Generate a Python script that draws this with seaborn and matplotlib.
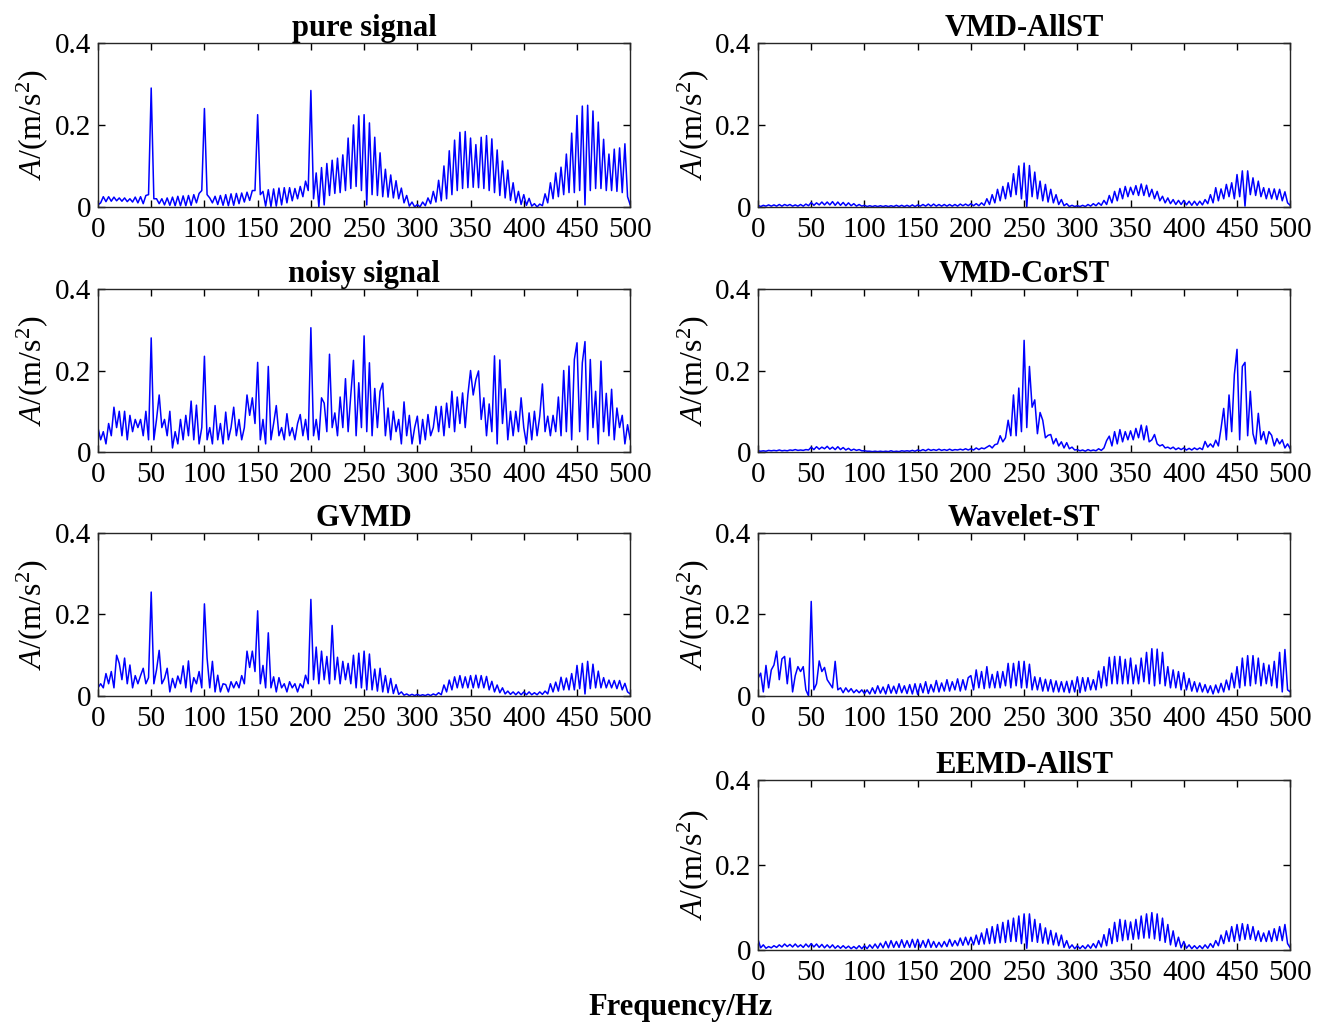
import numpy as np
import pandas as pd
import seaborn as sns
import matplotlib
matplotlib.use("Agg")
import matplotlib.pyplot as plt

# frequency grid, 2.5 Hz step (0 ... 500 Hz)
freq = np.arange(201) * 2.5

# ---- pure signal: harmonic peaks (every 5 Hz) and floor between them (x.5 Hz)
pure_peaks = [0.005, 0.025, 0.025, 0.024, 0.022, 0.022, 0.020, 0.024, 0.025, 0.028,
              0.290, 0.020, 0.020, 0.022, 0.024, 0.026, 0.027, 0.028, 0.030, 0.033,
              0.240, 0.022, 0.026, 0.028, 0.030, 0.032, 0.033, 0.034, 0.036, 0.040,
              0.225, 0.038, 0.042, 0.044, 0.046, 0.047, 0.047, 0.045, 0.050, 0.063,
              0.284, 0.083, 0.096, 0.106, 0.114, 0.119, 0.127, 0.168, 0.200, 0.222,
              0.225, 0.205, 0.170, 0.132, 0.092, 0.078, 0.064, 0.046, 0.028, 0.012,
              0.006, 0.012, 0.022, 0.038, 0.065, 0.100, 0.137, 0.163, 0.182, 0.184,
              0.168, 0.152, 0.170, 0.174, 0.166, 0.139, 0.112, 0.090, 0.059, 0.038,
              0.030, 0.021, 0.008, 0.007, 0.032, 0.059, 0.083, 0.097, 0.129, 0.180,
              0.223, 0.246, 0.248, 0.234, 0.207, 0.165, 0.129, 0.141, 0.144, 0.154,
              0.005]
pure_floor = [0.010, 0.013, 0.014, 0.015, 0.014, 0.013, 0.012, 0.010, 0.008, 0.030,
              0.020, 0.008, 0.005, 0.004, 0.003, 0.003, 0.003, 0.004, 0.010, 0.040,
              0.030, 0.010, 0.006, 0.004, 0.003, 0.004, 0.008, 0.012, 0.016, 0.040,
              0.030, 0.002, 0.001, 0.002, 0.005, 0.010, 0.015, 0.020, 0.025, 0.040,
              0.020, 0.000, 0.005, 0.028, 0.033, 0.035, 0.040, 0.045, 0.050, 0.040,
              0.005, 0.030, 0.028, 0.025, 0.024, 0.022, 0.020, 0.010, 0.002, 0.000,
              0.000, 0.003, 0.008, 0.012, 0.015, 0.020, 0.030, 0.040, 0.045, 0.047,
              0.048, 0.047, 0.045, 0.040, 0.035, 0.028, 0.022, 0.016, 0.010, 0.006,
              0.004, 0.002, 0.000, 0.003, 0.010, 0.020, 0.025, 0.030, 0.035, 0.035,
              0.040, 0.005, 0.040, 0.045, 0.045, 0.040, 0.040, 0.038, 0.035, 0.025]

# ---- noisy signal, read directly on the 2.5 Hz grid
noisy = [0.060, 0.030, 0.050, 0.020, 0.070, 0.040, 0.110, 0.060, 0.100, 0.040,
         0.100, 0.030, 0.090, 0.050, 0.080, 0.060, 0.080, 0.040, 0.100, 0.030,
         0.280, 0.030, 0.080, 0.140, 0.060, 0.080, 0.040, 0.100, 0.010, 0.050,
         0.020, 0.080, 0.030, 0.090, 0.040, 0.125, 0.030, 0.115, 0.020, 0.060,
         0.235, 0.030, 0.060, 0.020, 0.114, 0.030, 0.070, 0.020, 0.098, 0.030,
         0.060, 0.110, 0.040, 0.080, 0.030, 0.060, 0.140, 0.090, 0.133, 0.070,
         0.220, 0.030, 0.080, 0.020, 0.210, 0.030, 0.070, 0.114, 0.040, 0.060,
         0.030, 0.094, 0.040, 0.060, 0.030, 0.070, 0.092, 0.040, 0.080, 0.030,
         0.305, 0.040, 0.080, 0.030, 0.133, 0.120, 0.050, 0.240, 0.060, 0.096,
         0.040, 0.135, 0.060, 0.180, 0.050, 0.140, 0.225, 0.040, 0.170, 0.060,
         0.285, 0.050, 0.219, 0.040, 0.156, 0.060, 0.149, 0.169, 0.040, 0.108,
         0.030, 0.100, 0.050, 0.080, 0.020, 0.123, 0.040, 0.090, 0.020, 0.060,
         0.088, 0.020, 0.080, 0.030, 0.092, 0.040, 0.060, 0.112, 0.050, 0.112,
         0.040, 0.120, 0.060, 0.149, 0.050, 0.135, 0.070, 0.145, 0.060, 0.141,
         0.200, 0.140, 0.178, 0.199, 0.080, 0.133, 0.040, 0.118, 0.050, 0.236,
         0.020, 0.226, 0.070, 0.155, 0.030, 0.100, 0.040, 0.100, 0.050, 0.133,
         0.060, 0.020, 0.096, 0.030, 0.100, 0.040, 0.088, 0.167, 0.050, 0.088,
         0.040, 0.090, 0.050, 0.135, 0.040, 0.200, 0.050, 0.211, 0.030, 0.227,
         0.268, 0.050, 0.219, 0.271, 0.030, 0.227, 0.060, 0.149, 0.020, 0.223,
         0.050, 0.144, 0.040, 0.154, 0.030, 0.108, 0.060, 0.090, 0.020, 0.067,
         0.030]

# ---- GVMD, 2.5 Hz grid
gvmd = [0.020, 0.030, 0.020, 0.055, 0.030, 0.060, 0.020, 0.100, 0.080, 0.040,
        0.093, 0.030, 0.076, 0.020, 0.050, 0.030, 0.050, 0.068, 0.030, 0.045,
        0.255, 0.030, 0.064, 0.112, 0.030, 0.043, 0.068, 0.010, 0.043, 0.020,
        0.049, 0.030, 0.074, 0.020, 0.086, 0.010, 0.045, 0.030, 0.060, 0.020,
        0.226, 0.093, 0.020, 0.085, 0.010, 0.051, 0.010, 0.030, 0.028, 0.010,
        0.035, 0.020, 0.035, 0.020, 0.050, 0.030, 0.110, 0.070, 0.110, 0.060,
        0.209, 0.030, 0.075, 0.020, 0.155, 0.020, 0.047, 0.010, 0.045, 0.020,
        0.030, 0.010, 0.035, 0.020, 0.030, 0.010, 0.030, 0.020, 0.051, 0.030,
        0.237, 0.040, 0.120, 0.030, 0.110, 0.040, 0.097, 0.030, 0.173, 0.040,
        0.095, 0.030, 0.085, 0.040, 0.080, 0.030, 0.100, 0.020, 0.105, 0.020,
        0.110, 0.015, 0.103, 0.015, 0.066, 0.012, 0.068, 0.010, 0.050, 0.008,
        0.043, 0.006, 0.028, 0.004, 0.010, 0.002, 0.005, 0.001, 0.004, 0.001,
        0.004, 0.001, 0.003, 0.001, 0.004, 0.001, 0.005, 0.002, 0.008, 0.003,
        0.027, 0.010, 0.039, 0.015, 0.047, 0.020, 0.050, 0.020, 0.047, 0.020,
        0.050, 0.020, 0.051, 0.020, 0.050, 0.020, 0.048, 0.015, 0.036, 0.010,
        0.027, 0.008, 0.020, 0.005, 0.012, 0.004, 0.010, 0.003, 0.010, 0.003,
        0.010, 0.003, 0.010, 0.003, 0.008, 0.003, 0.010, 0.004, 0.012, 0.005,
        0.030, 0.010, 0.034, 0.012, 0.046, 0.015, 0.044, 0.015, 0.055, 0.015,
        0.075, 0.018, 0.080, 0.005, 0.085, 0.018, 0.078, 0.020, 0.061, 0.020,
        0.045, 0.020, 0.039, 0.020, 0.038, 0.018, 0.038, 0.015, 0.031, 0.010,
        0.005]

# ---- VMD-AllST peaks / floor
vmd_all_peaks = [0.004, 0.004, 0.005, 0.005, 0.006, 0.006, 0.006, 0.005, 0.006, 0.007,
                 0.011, 0.010, 0.012, 0.012, 0.013, 0.012, 0.011, 0.010, 0.008, 0.006,
                 0.004, 0.003, 0.003, 0.003, 0.003, 0.003, 0.004, 0.004, 0.004, 0.005,
                 0.005, 0.006, 0.007, 0.007, 0.006, 0.006, 0.006, 0.006, 0.007, 0.007,
                 0.008, 0.008, 0.010, 0.020, 0.030, 0.043, 0.050, 0.059, 0.081, 0.100,
                 0.107, 0.101, 0.085, 0.063, 0.055, 0.043, 0.030, 0.018, 0.008, 0.004,
                 0.003, 0.004, 0.006, 0.008, 0.010, 0.016, 0.028, 0.038, 0.045, 0.050,
                 0.048, 0.052, 0.056, 0.053, 0.043, 0.038, 0.026, 0.022, 0.018, 0.016,
                 0.016, 0.014, 0.014, 0.014, 0.018, 0.030, 0.047, 0.044, 0.055, 0.059,
                 0.079, 0.088, 0.088, 0.071, 0.063, 0.047, 0.045, 0.044, 0.043, 0.037,
                 0.004]
vmd_all_floor = [0.001, 0.002, 0.002, 0.002, 0.002, 0.003, 0.002, 0.002, 0.002, 0.003,
                 0.004, 0.005, 0.005, 0.005, 0.004, 0.004, 0.003, 0.003, 0.002, 0.002,
                 0.001, 0.001, 0.001, 0.001, 0.001, 0.001, 0.001, 0.001, 0.001, 0.001,
                 0.002, 0.002, 0.002, 0.002, 0.002, 0.002, 0.002, 0.002, 0.003, 0.003,
                 0.003, 0.003, 0.004, 0.006, 0.010, 0.015, 0.020, 0.025, 0.030, 0.020,
                 0.000, 0.025, 0.020, 0.015, 0.012, 0.010, 0.006, 0.003, 0.001, 0.001,
                 0.001, 0.001, 0.002, 0.003, 0.004, 0.006, 0.010, 0.015, 0.020, 0.025,
                 0.030, 0.028, 0.028, 0.025, 0.020, 0.015, 0.010, 0.008, 0.006, 0.006,
                 0.005, 0.004, 0.004, 0.005, 0.008, 0.010, 0.015, 0.020, 0.025, 0.020,
                 0.025, 0.002, 0.030, 0.028, 0.025, 0.020, 0.020, 0.018, 0.015, 0.010]

# ---- VMD-CorST, 2.5 Hz grid
vmd_cor = [0.003, 0.002, 0.003, 0.002, 0.004, 0.003, 0.004, 0.003, 0.005, 0.003,
           0.004, 0.003, 0.005, 0.004, 0.006, 0.004, 0.005, 0.004, 0.006, 0.005,
           0.012, 0.006, 0.013, 0.007, 0.012, 0.008, 0.014, 0.007, 0.012, 0.006,
           0.013, 0.006, 0.011, 0.005, 0.009, 0.004, 0.007, 0.004, 0.006, 0.003,
           0.003, 0.002, 0.002, 0.001, 0.002, 0.001, 0.002, 0.001, 0.002, 0.001,
           0.003, 0.001, 0.002, 0.001, 0.003, 0.002, 0.003, 0.002, 0.004, 0.002,
           0.005, 0.003, 0.006, 0.003, 0.007, 0.004, 0.006, 0.004, 0.007, 0.004,
           0.006, 0.004, 0.007, 0.004, 0.006, 0.005, 0.007, 0.005, 0.008, 0.005,
           0.008, 0.005, 0.010, 0.006, 0.010, 0.008, 0.012, 0.016, 0.010, 0.018,
           0.020, 0.040, 0.025, 0.035, 0.078, 0.040, 0.140, 0.040, 0.157, 0.050,
           0.274, 0.060, 0.210, 0.110, 0.128, 0.045, 0.097, 0.078, 0.035, 0.041,
           0.043, 0.020, 0.033, 0.015, 0.025, 0.010, 0.023, 0.008, 0.012, 0.005,
           0.006, 0.003, 0.005, 0.002, 0.006, 0.003, 0.005, 0.003, 0.008, 0.004,
           0.010, 0.028, 0.039, 0.015, 0.050, 0.020, 0.055, 0.025, 0.050, 0.030,
           0.052, 0.030, 0.058, 0.035, 0.066, 0.030, 0.064, 0.025, 0.030, 0.043,
           0.020, 0.015, 0.018, 0.010, 0.012, 0.008, 0.012, 0.006, 0.010, 0.006,
           0.010, 0.005, 0.009, 0.005, 0.010, 0.006, 0.010, 0.006, 0.026, 0.012,
           0.020, 0.012, 0.029, 0.015, 0.058, 0.107, 0.030, 0.140, 0.050, 0.190,
           0.252, 0.030, 0.210, 0.220, 0.040, 0.149, 0.045, 0.020, 0.095, 0.030,
           0.050, 0.020, 0.050, 0.041, 0.015, 0.033, 0.020, 0.030, 0.010, 0.020,
           0.008]

# ---- Wavelet-ST, 2.5 Hz grid
wavelet = [0.043, 0.056, 0.010, 0.075, 0.020, 0.064, 0.076, 0.110, 0.040, 0.091,
           0.097, 0.030, 0.093, 0.010, 0.050, 0.072, 0.060, 0.072, 0.015, 0.000,
           0.232, 0.015, 0.030, 0.086, 0.060, 0.070, 0.040, 0.030, 0.020, 0.085,
           0.015, 0.020, 0.008, 0.020, 0.010, 0.018, 0.008, 0.015, 0.008, 0.015,
           0.006, 0.015, 0.005, 0.020, 0.006, 0.025, 0.007, 0.022, 0.005, 0.028,
           0.007, 0.024, 0.006, 0.030, 0.008, 0.025, 0.006, 0.028, 0.005, 0.030,
           0.004, 0.030, 0.008, 0.035, 0.006, 0.028, 0.010, 0.038, 0.010, 0.032,
           0.012, 0.040, 0.012, 0.035, 0.015, 0.042, 0.012, 0.040, 0.015, 0.045,
           0.050, 0.015, 0.064, 0.020, 0.060, 0.018, 0.072, 0.020, 0.053, 0.020,
           0.060, 0.020, 0.060, 0.025, 0.080, 0.020, 0.080, 0.025, 0.085, 0.020,
           0.085, 0.020, 0.078, 0.015, 0.047, 0.015, 0.045, 0.012, 0.041, 0.012,
           0.040, 0.010, 0.037, 0.010, 0.035, 0.010, 0.036, 0.008, 0.038, 0.010,
           0.047, 0.008, 0.045, 0.012, 0.045, 0.015, 0.040, 0.015, 0.061, 0.020,
           0.072, 0.025, 0.095, 0.030, 0.097, 0.030, 0.097, 0.030, 0.090, 0.030,
           0.093, 0.030, 0.076, 0.030, 0.093, 0.035, 0.107, 0.030, 0.116, 0.025,
           0.115, 0.030, 0.107, 0.025, 0.072, 0.020, 0.064, 0.020, 0.060, 0.015,
           0.057, 0.015, 0.043, 0.012, 0.035, 0.010, 0.032, 0.010, 0.028, 0.008,
           0.025, 0.005, 0.027, 0.008, 0.031, 0.010, 0.039, 0.015, 0.056, 0.020,
           0.072, 0.020, 0.093, 0.025, 0.099, 0.025, 0.099, 0.030, 0.093, 0.025,
           0.080, 0.030, 0.076, 0.025, 0.085, 0.020, 0.107, 0.010, 0.114, 0.015,
           0.010]

# ---- EEMD-AllST peaks / floor
eemd_peaks = [0.025, 0.012, 0.008, 0.010, 0.012, 0.014, 0.013, 0.014, 0.012, 0.014,
              0.015, 0.014, 0.013, 0.012, 0.012, 0.010, 0.010, 0.009, 0.008, 0.010,
              0.010, 0.012, 0.014, 0.016, 0.020, 0.022, 0.020, 0.024, 0.022, 0.025,
              0.025, 0.022, 0.025, 0.020, 0.018, 0.020, 0.025, 0.022, 0.028, 0.030,
              0.030, 0.035, 0.040, 0.050, 0.055, 0.060, 0.065, 0.070, 0.075, 0.080,
              0.085, 0.085, 0.072, 0.062, 0.052, 0.046, 0.040, 0.035, 0.022, 0.012,
              0.010, 0.010, 0.012, 0.015, 0.022, 0.036, 0.050, 0.065, 0.072, 0.070,
              0.066, 0.072, 0.080, 0.085, 0.088, 0.085, 0.075, 0.060, 0.045, 0.030,
              0.020, 0.012, 0.010, 0.010, 0.012, 0.015, 0.022, 0.035, 0.045, 0.055,
              0.060, 0.062, 0.060, 0.055, 0.045, 0.040, 0.045, 0.050, 0.055, 0.060,
              0.005]
eemd_floor = [0.005, 0.004, 0.005, 0.006, 0.007, 0.008, 0.007, 0.007, 0.006, 0.007,
              0.007, 0.006, 0.005, 0.005, 0.004, 0.004, 0.004, 0.003, 0.003, 0.003,
              0.003, 0.004, 0.004, 0.005, 0.005, 0.006, 0.006, 0.006, 0.006, 0.006,
              0.006, 0.006, 0.006, 0.006, 0.007, 0.008, 0.009, 0.010, 0.011, 0.012,
              0.012, 0.013, 0.014, 0.015, 0.016, 0.017, 0.018, 0.020, 0.020, 0.015,
              0.004, 0.020, 0.018, 0.016, 0.014, 0.012, 0.010, 0.006, 0.004, 0.003,
              0.003, 0.003, 0.004, 0.005, 0.007, 0.010, 0.015, 0.020, 0.022, 0.024,
              0.025, 0.026, 0.028, 0.028, 0.026, 0.022, 0.018, 0.012, 0.008, 0.005,
              0.004, 0.003, 0.003, 0.003, 0.004, 0.006, 0.010, 0.015, 0.020, 0.020,
              0.022, 0.025, 0.025, 0.022, 0.020, 0.020, 0.020, 0.022, 0.022, 0.015]

titles = ["pure signal", "noisy signal", "GVMD",
          "VMD-AllST", "VMD-CorST", "Wavelet-ST", "EEMD-AllST"]


def comb(peaks, floor):
    # put peak values on the 5 Hz lines and floor values half way between
    y = np.empty(201)
    y[0::2] = peaks
    y[1::2] = floor
    return y


spectra = [comb(pure_peaks, pure_floor), np.array(noisy), np.array(gvmd),
           comb(vmd_all_peaks, vmd_all_floor), np.array(vmd_cor),
           np.array(wavelet), comb(eemd_peaks, eemd_floor)]

sns.set_style("ticks")
plt.rcParams['font.family'] = ['Liberation Serif', 'DejaVu Serif']
plt.rcParams['mathtext.fontset'] = 'custom'
plt.rcParams['mathtext.rm'] = 'Liberation Serif'
plt.rcParams['mathtext.it'] = 'Liberation Serif:italic'
plt.rcParams['text.color'] = 'black'
plt.rcParams['axes.labelcolor'] = 'black'
plt.rcParams['xtick.color'] = 'black'
plt.rcParams['ytick.color'] = 'black'

fig = plt.figure(figsize=(13.24, 10.22), dpi=100)

# axes boxes [left, bottom, width, height]
left_x, right_x, w = 0.074, 0.5725, 0.402
rects = [[left_x, 0.7975, w, 0.1605], [left_x, 0.5577, w, 0.1595], [left_x, 0.319, w, 0.1595],
         [right_x, 0.7975, w, 0.1605], [right_x, 0.5577, w, 0.1595], [right_x, 0.319, w, 0.1595],
         [right_x, 0.0705, w, 0.166]]

for rect, title, amp in zip(rects, titles, spectra):
    ax = fig.add_axes(rect)
    df = pd.DataFrame({'Frequency': freq, 'A': amp})
    sns.lineplot(data=df, x='Frequency', y='A', ax=ax, color='#0000ff', linewidth=1.1)
    ax.set_xlim(0, 500)
    ax.set_ylim(0, 0.4)
    ax.set_xticks(np.arange(0, 501, 50))
    ax.set_yticks([0, 0.2, 0.4])
    ax.set_yticklabels(['0', '0.2', '0.4'])
    ax.tick_params(direction='in', top=True, right=True, length=5, width=1, labelsize=21)
    ax.tick_params(axis='x', pad=7)
    ax.tick_params(axis='y', pad=5)
    for s in ax.spines.values():
        s.set_linewidth(1.0)
        s.set_color('#262626')
    ax.set_title(title, fontweight='bold', fontsize=22, pad=5)
    ax.set_xlabel('')
    ax.set_ylabel(r'$\mathit{A}$/(m/s$^{2}$)', fontsize=23, labelpad=3)

fig.text(0.514, 0.0, 'Frequency/Hz', ha='center', va='bottom', fontweight='bold', fontsize=22)

fig.savefig('out.png', dpi=100)
